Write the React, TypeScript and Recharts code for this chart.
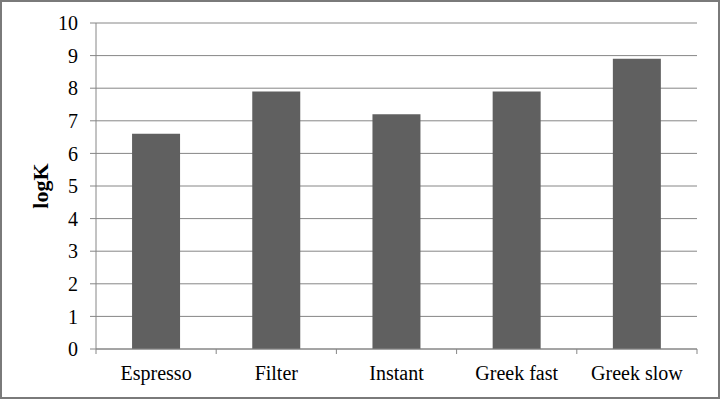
import React from 'react';
import { BarChart, Bar, XAxis, YAxis, CartesianGrid } from 'recharts';

const categories = ['Espresso', 'Filter', 'Instant', 'Greek fast', 'Greek slow'];
const logK = [6.6, 7.9, 7.2, 7.9, 8.9];
const yTicks = [0, 1, 2, 3, 4, 5, 6, 7, 8, 9, 10];

const chartData = categories.map((name, i) => ({ name, logK: logK[i] }));

const GRID = '#868686';
const FONT = '"Liberation Serif", "Times New Roman", serif';

// category labels plus the little tick marks that sit on the category edges
const CategoryTick = (props: any) => {
  const { x, y, payload, index } = props;
  const half = payload && payload.offset ? payload.offset : 60;
  return (
    <g>
      <line x1={x - half} y1={y} x2={x - half} y2={y + 5} stroke={GRID} />
      {index === categories.length - 1 && (
        <line x1={x + half} y1={y} x2={x + half} y2={y + 5} stroke={GRID} />
      )}
      <text x={x} y={y + 31} textAnchor="middle" fontSize={20} fontFamily={FONT} fill="#000">
        {payload.value}
      </text>
    </g>
  );
};

const YTitle = (props: any) => {
  const vb = props.viewBox || { x: 0, y: 0, height: 0 };
  const cx = vb.x + 38;
  const cy = vb.y + vb.height / 2;
  return (
    <text
      x={cx}
      y={cy}
      transform={`rotate(-90, ${cx}, ${cy})`}
      textAnchor="middle"
      dominantBaseline="central"
      fontSize={22}
      fontWeight="bold"
      fontFamily={FONT}
      fill="#000"
    >
      logK
    </text>
  );
};

export default function App() {
  return (
    <div
      style={{
        position: 'absolute',
        top: 0,
        left: 0,
        width: 720,
        height: 399,
        boxSizing: 'border-box',
        border: '2px solid #7a7a7a',
        background: '#fff',
      }}
    >
      <BarChart
        width={716}
        height={395}
        data={chartData}
        margin={{ top: 21, right: 21, left: 0, bottom: 0 }}
        barCategoryGap="30%"
      >
        <CartesianGrid vertical={false} stroke={GRID} strokeWidth={1} />
        <XAxis
          dataKey="name"
          height={48}
          axisLine={{ stroke: GRID }}
          tickLine={false}
          tickSize={0}
          tickMargin={0}
          interval={0}
          tick={<CategoryTick />}
        />
        <YAxis
          width={94}
          domain={[0, 10]}
          ticks={yTicks}
          interval={0}
          axisLine={{ stroke: GRID }}
          tickLine={{ stroke: GRID }}
          tickSize={6}
          tickMargin={12}
          tick={{ fill: '#000', fontSize: 20, fontFamily: FONT }}
          label={<YTitle />}
        />
        <Bar dataKey="logK" fill="#606060" isAnimationActive={false} />
      </BarChart>
    </div>
  );
}
